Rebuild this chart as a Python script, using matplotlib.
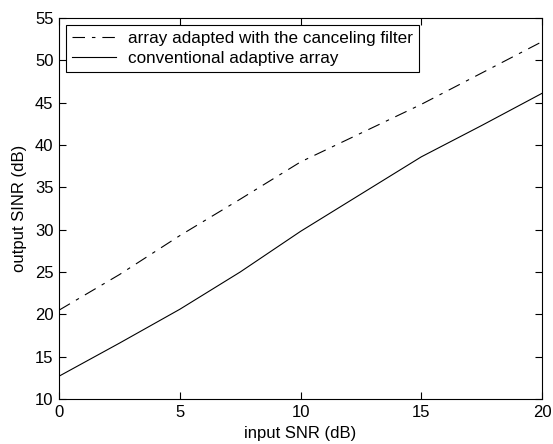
import numpy as np
import matplotlib.pyplot as plt

plt.rcParams['font.family'] = ['Liberation Sans', 'DejaVu Sans']
plt.rcParams['lines.scale_dashes'] = False

# data
snr_in = [0, 2.5, 5, 7.5, 10, 12.5, 15, 17.5, 20]
sinr_cancel = [20.5, 24.7, 29.3, 33.6, 38.0, 41.4, 44.8, 48.5, 52.2]
sinr_conv = [12.7, 16.6, 20.6, 25.0, 29.8, 34.2, 38.6, 42.3, 46.1]

fig = plt.figure(figsize=(5.53, 4.44), dpi=100)
ax = fig.add_axes([0.107, 0.1014, 0.873, 0.858])

ax.plot(snr_in, sinr_cancel, color='black', lw=0.8, dashes=(9, 5, 2.5, 5),
        label='array adapted with the canceling filter')
ax.plot(snr_in, sinr_conv, color='black', lw=0.8, label='conventional adaptive array')

ax.set_xlim(0, 20)
ax.set_ylim(10, 55)
ax.set_xticks([0, 5, 10, 15, 20])
ax.set_yticks(np.arange(10, 56, 5))
ax.tick_params(direction='in', top=True, right=True, length=5, width=0.8,
               labelsize=12, pad=4)
for s in ax.spines.values():
    s.set_linewidth(0.8)

ax.set_xlabel('input SNR (dB)', fontsize=12, labelpad=5)
ax.set_ylabel('output SINR (dB)', fontsize=12, labelpad=6)

leg = ax.legend(loc='upper left', fontsize=12.3, fancybox=False, framealpha=1,
                edgecolor='black', handlelength=2.6, borderaxespad=0.4,
                borderpad=0.35, labelspacing=0.3, handletextpad=0.7)
leg.get_frame().set_linewidth(0.8)

fig.savefig('out.png', dpi=100)
